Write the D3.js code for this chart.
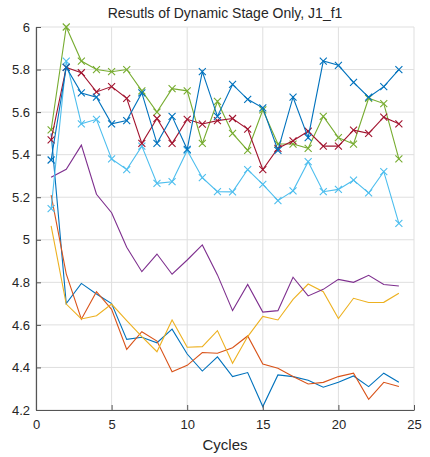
<!DOCTYPE html>
<html>
<head>
<meta charset="utf-8">
<script src="https://cdn.jsdelivr.net/npm/d3@7"></script>
<style>
  body { margin: 0; background: #fff; }
  text { font-family: "Liberation Sans", Arial, sans-serif; fill: #262626; }
</style>
</head>
<body>
<div id="chart"></div>
<script>
// cycle numbers on the x axis
const cycles = [1, 2, 3, 4, 5, 6, 7, 8, 9, 10, 11, 12, 13, 14, 15, 16, 17, 18, 19, 20, 21, 22, 23, 24];

// series without markers
const run1 = [5.50, 4.70, 4.795, 4.745, 4.70, 4.532, 4.542, 4.516, 4.58, 4.463, 4.383, 4.45, 4.357, 4.376, 4.216, 4.365, 4.357, 4.34, 4.307, 4.33, 4.36, 4.31, 4.373, 4.33];
const run2 = [5.21, 4.84, 4.627, 4.756, 4.673, 4.485, 4.568, 4.524, 4.38, 4.41, 4.47, 4.467, 4.493, 4.548, 4.416, 4.396, 4.357, 4.322, 4.33, 4.357, 4.373, 4.25, 4.33, 4.31];
const run3 = [5.065, 4.698, 4.628, 4.643, 4.698, 4.62, 4.545, 4.474, 4.623, 4.495, 4.498, 4.573, 4.42, 4.545, 4.64, 4.623, 4.72, 4.792, 4.756, 4.63, 4.725, 4.705, 4.706, 4.749];
const run4 = [5.294, 5.331, 5.445, 5.214, 5.127, 4.965, 4.85, 4.933, 4.838, 4.905, 4.976, 4.835, 4.667, 4.79, 4.66, 4.667, 4.824, 4.736, 4.767, 4.814, 4.80, 4.833, 4.79, 4.783];
// series with x markers
const run5 = [5.516, 6.0, 5.84, 5.80, 5.79, 5.80, 5.70, 5.60, 5.71, 5.70, 5.453, 5.65, 5.50, 5.42, 5.61, 5.45, 5.45, 5.43, 5.58, 5.48, 5.45, 5.665, 5.64, 5.38];
const run6 = [5.146, 5.84, 5.545, 5.566, 5.38, 5.33, 5.44, 5.265, 5.273, 5.42, 5.292, 5.226, 5.225, 5.33, 5.26, 5.184, 5.23, 5.367, 5.226, 5.237, 5.28, 5.22, 5.32, 5.077];
const run7 = [5.47, 5.81, 5.785, 5.695, 5.72, 5.665, 5.453, 5.57, 5.453, 5.566, 5.544, 5.56, 5.57, 5.52, 5.33, 5.43, 5.465, 5.51, 5.44, 5.44, 5.515, 5.50, 5.576, 5.545];
const run8 = [5.375, 5.81, 5.69, 5.67, 5.545, 5.56, 5.69, 5.453, 5.58, 5.425, 5.79, 5.58, 5.73, 5.66, 5.62, 5.42, 5.67, 5.48, 5.84, 5.82, 5.74, 5.67, 5.72, 5.80];

const xTicks = [0, 5, 10, 15, 20, 25];
const yTicks = [4.2, 4.4, 4.6, 4.8, 5, 5.2, 5.4, 5.6, 5.8, 6];

// matlab default colour order, 8th wraps to blue
const series = [
  { values: run1, color: "#0072BD", marker: false },
  { values: run2, color: "#D95319", marker: false },
  { values: run3, color: "#EDB120", marker: false },
  { values: run4, color: "#7E2F8E", marker: false },
  { values: run5, color: "#77AC30", marker: true },
  { values: run6, color: "#4DBEEE", marker: true },
  { values: run7, color: "#A2142F", marker: true },
  { values: run8, color: "#0072BD", marker: true }
];

var margin = { top: 27, right: 16, bottom: 47, left: 36 },
    width = 430 - margin.left - margin.right,
    height = 457 - margin.top - margin.bottom;

const svg = d3.select("#chart")
  .append("svg")
    .attr("width", 430)
    .attr("height", 457)
  .append("g")
    .attr("transform", `translate(${margin.left},${margin.top})`);

const x = d3.scaleLinear().domain([0, 25]).range([0, width]);
const y = d3.scaleLinear().domain([4.2, 6]).range([height, 0]);

// grid
svg.append("g")
  .selectAll("line")
  .data(xTicks)
  .join("line")
    .attr("x1", d => x(d)).attr("x2", d => x(d))
    .attr("y1", 0).attr("y2", height)
    .attr("stroke", "#dfdfdf");
svg.append("g")
  .selectAll("line")
  .data(yTicks)
  .join("line")
    .attr("x1", 0).attr("x2", width)
    .attr("y1", d => y(d)).attr("y2", d => y(d))
    .attr("stroke", "#dfdfdf");

// lines + markers
const line = d3.line()
  .x((d, i) => x(cycles[i]))
  .y(d => y(d));

series.forEach(s => {
  svg.append("path")
    .datum(s.values)
    .attr("fill", "none")
    .attr("stroke", s.color)
    .attr("stroke-width", 1.1)
    .attr("d", line);
  if (s.marker) {
    const m = 3.5;
    svg.append("g")
      .selectAll("path")
      .data(s.values)
      .join("path")
        .attr("d", (d, i) => {
          const cx = x(cycles[i]), cy = y(d);
          return `M${cx - m},${cy - m}L${cx + m},${cy + m}M${cx - m},${cy + m}L${cx + m},${cy - m}`;
        })
        .attr("stroke", s.color)
        .attr("stroke-width", 1.1)
        .attr("fill", "none");
  }
});

// axes (ticks point inward, box off)
const xAxis = svg.append("g")
  .attr("transform", `translate(0,${height})`)
  .call(d3.axisBottom(x).tickValues(xTicks).tickSize(-5).tickPadding(10).tickSizeOuter(0));
const yAxis = svg.append("g")
  .call(d3.axisLeft(y).tickValues(yTicks).tickSize(-5).tickPadding(6).tickSizeOuter(0)
    .tickFormat(d3.format("")));

[xAxis, yAxis].forEach(a => {
  a.select(".domain").attr("stroke", "#555").attr("stroke-width", 1.2);
  a.selectAll(".tick line").attr("stroke", "#555");
  a.selectAll(".tick text").style("font-size", "13px").attr("fill", "#262626");
});

// title and x label
svg.append("text")
  .attr("x", width / 2)
  .attr("y", -9)
  .attr("text-anchor", "middle")
  .style("font-size", "14px")
  .text("Resutls of Dynamic Stage Only, J1_f1");

svg.append("text")
  .attr("x", width / 2)
  .attr("y", height + 40)
  .attr("text-anchor", "middle")
  .style("font-size", "15px")
  .text("Cycles");
</script>
</body>
</html>
